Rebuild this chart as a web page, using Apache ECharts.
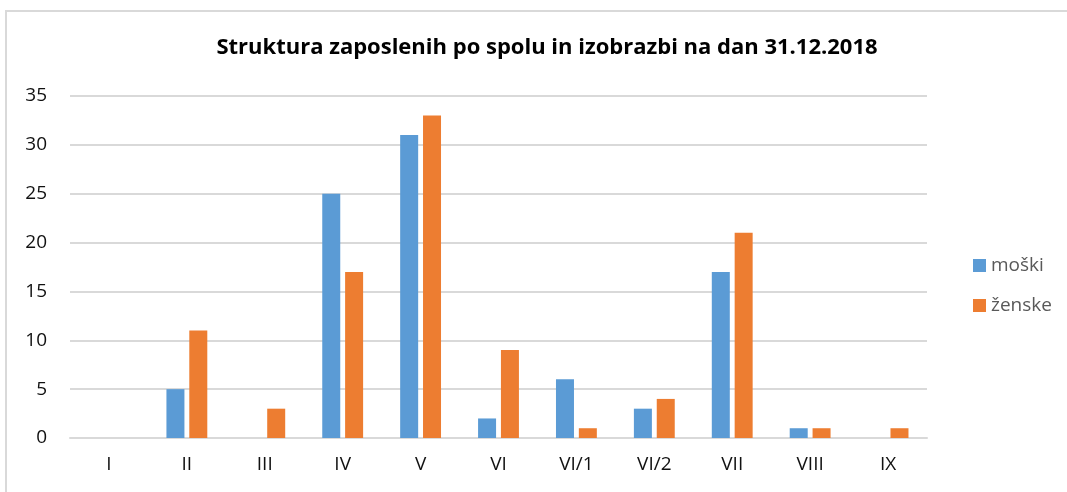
<!DOCTYPE html>
<html>
<head>
<meta charset="utf-8">
<script src="https://cdn.jsdelivr.net/npm/echarts@6/dist/echarts.min.js"></script>
<style>
  html, body { margin: 0; padding: 0; background: #fff; overflow: hidden; width: 1067px; height: 492px; }
  #frame { position: absolute; left: 5px; top: 10px; width: 1100px; height: 520px; border-left: 2px solid #d9d9d9; border-top: 2px solid #d9d9d9; box-sizing: border-box; }
  #chart { position: absolute; left: 0; top: 0; width: 1067px; height: 492px; }
</style>
</head>
<body>
<div id="frame"></div>
<div id="chart"></div>
<script>
const categories = ['I', 'II', 'III', 'IV', 'V', 'VI', 'VI/1', 'VI/2', 'VII', 'VIII', 'IX']
const moski = [0, 5, 0, 25, 31, 2, 6, 3, 17, 1, 0]
const zenske = [0, 11, 3, 17, 33, 9, 1, 4, 21, 1, 1]

const chart = echarts.init(document.getElementById('chart'))
chart.setOption({
  animation: false,
  textStyle: { fontFamily: 'Open Sans' },
  title: {
    text: 'Struktura zaposlenih po spolu in izobrazbi na dan 31.12.2018',
    left: 542,
    textAlign: 'center',
    top: 32,
    textStyle: { fontSize: 22, fontWeight: 'bold', color: '#000', fontFamily: 'Open Sans' }
  },
  legend: {
    orient: 'vertical',
    left: 968,
    top: 251,
    itemWidth: 13,
    itemHeight: 13,
    itemGap: 21,
    icon: 'rect',
    textStyle: { fontSize: 19, color: '#595959' },
    data: ['moški', 'ženske']
  },
  grid: { left: 70, right: 140, top: 96, bottom: 54 },
  xAxis: {
    type: 'category',
    data: categories,
    axisTick: { show: false },
    axisLine: { lineStyle: { color: '#d9d9d9', width: 2 } },
    axisLabel: { fontSize: 19, color: '#111', margin: 17 }
  },
  yAxis: {
    type: 'value',
    min: 0,
    max: 35,
    interval: 5,
    axisLine: { show: false },
    axisTick: { show: false },
    splitLine: { lineStyle: { color: '#d9d9d9', width: 2 } },
    axisLabel: { fontSize: 19, color: '#111', margin: 23 }
  },
  series: [
    {
      name: 'moški',
      type: 'bar',
      data: moski,
      barWidth: 18,
      barGap: '27%',
      itemStyle: { color: '#5b9bd5' }
    },
    {
      name: 'ženske',
      type: 'bar',
      data: zenske,
      barWidth: 18,
      barGap: '27%',
      itemStyle: { color: '#ed7d31' }
    }
  ]
})
</script>
</body>
</html>
